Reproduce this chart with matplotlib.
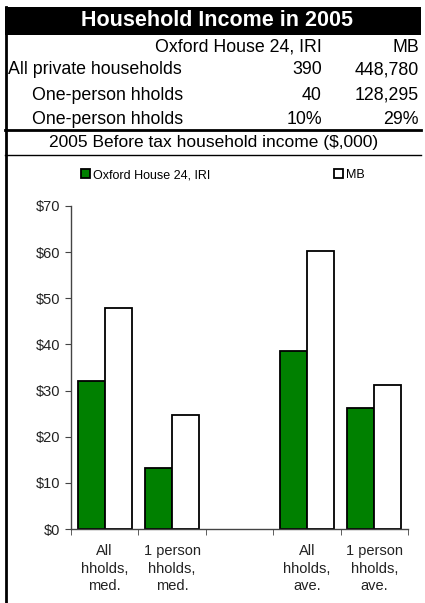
import numpy as np
import matplotlib.pyplot as plt
from matplotlib.patches import Patch
from matplotlib.lines import Line2D

plt.rcParams['font.family'] = ['Liberation Sans', 'DejaVu Sans']

# table data
title = "Household Income in 2005"
col_names = ["Oxford House 24, IRI", "MB"]
row_names = ["All private households", "One-person hholds", "One-person hholds"]
row_indent = [False, True, True]
oxford_vals = ["390", "40", "10%"]
mb_vals = ["448,780", "128,295", "29%"]
chart_title = "2005 Before tax household income ($,000)"

# chart data
categories = ["All\nhholds,\nmed.", "1 person\nhholds,\nmed.", "", "All\nhholds,\nave.", "1 person\nhholds,\nave."]
oxford_income = [32.0, 13.3, np.nan, 38.5, 26.3]
mb_income = [48.0, 24.8, np.nan, 60.3, 31.2]
series_names = ["Oxford House 24, IRI", "MB"]
yticks = [0, 10, 20, 30, 40, 50, 60, 70]

W, H = 425, 603
fig = plt.figure(figsize=(W / 100, H / 100), dpi=100)

def fx(px):
    return px / W

def fy(py):
    return 1 - py / H

# black title bar
fig.patches.append(plt.Rectangle((fx(5), fy(35)), fx(416), 28 / H, transform=fig.transFigure,
                                 facecolor="black", edgecolor="none"))
fig.text(fx(217), fy(21), title, color="white", fontsize=15.5, fontweight="bold",
         ha="center", va="center")

# frame lines
fig.add_artist(Line2D([fx(5.5), fx(5.5)], [fy(7), fy(603)], color="black", lw=2.0, transform=fig.transFigure))
fig.add_artist(Line2D([fx(5), fx(421)], [fy(130), fy(130)], color="black", lw=2.0, transform=fig.transFigure))
fig.add_artist(Line2D([fx(5), fx(421)], [fy(155), fy(155)], color="black", lw=1.0, transform=fig.transFigure))

# table
fs = 12.8
fig.text(fx(322), fy(47), col_names[0], fontsize=fs, ha="right", va="center")
fig.text(fx(419), fy(47), col_names[1], fontsize=fs, ha="right", va="center")
row_y = [70, 95, 119]
for name, ind, ov, mv, y in zip(row_names, row_indent, oxford_vals, mb_vals, row_y):
    fig.text(fx(32 if ind else 8), fy(y), name, fontsize=fs, ha="left", va="center")
    fig.text(fx(322), fy(y), ov, fontsize=fs, ha="right", va="center")
    fig.text(fx(419), fy(y), mv, fontsize=fs, ha="right", va="center")

fig.text(fx(214), fy(143), chart_title, fontsize=12.5, ha="center", va="center")

# chart
ax = fig.add_axes([fx(71), fy(529), fx(408) - fx(71), fy(206) - fy(529)])
x = np.arange(len(categories))
bw = 0.4
ax.bar(x - bw / 2, oxford_income, bw, color="#008000", edgecolor="black", linewidth=1.3, label=series_names[0])
ax.bar(x + bw / 2, mb_income, bw, color="white", edgecolor="black", linewidth=1.3, label=series_names[1])
ax.set_xlim(-0.5, len(categories) - 0.5)
ax.set_ylim(0, 70)
ax.set_yticks(yticks)
ax.set_yticklabels([f"${v}" for v in yticks], fontsize=10.5, color="#222222")
ax.set_xticks(x)
ax.set_xticklabels(categories, fontsize=10.5, linespacing=1.32, color="#222222")
ax.tick_params(axis="x", length=0, pad=11)
ax.set_xticks(np.arange(len(categories) + 1) - 0.5, minor=True)
ax.tick_params(axis="x", which="minor", length=4, color="#444444")
ax.tick_params(axis="y", length=4, color="#444444")
for s in ["top", "right"]:
    ax.spines[s].set_visible(False)
for s in ["left", "bottom"]:
    ax.spines[s].set_color("#444444")
    ax.spines[s].set_linewidth(1.0)

handles = [Patch(facecolor="#008000", edgecolor="black", linewidth=1.3),
           Patch(facecolor="white", edgecolor="black", linewidth=1.3)]
fig.legend(handles, series_names, loc="center left", bbox_to_anchor=(fx(70), fy(175)), ncol=2,
           frameon=False, fontsize=9, handlelength=0.7, handleheight=0.7, handletextpad=0.25,
           columnspacing=9.9)

fig.savefig("out.png", dpi=100)
